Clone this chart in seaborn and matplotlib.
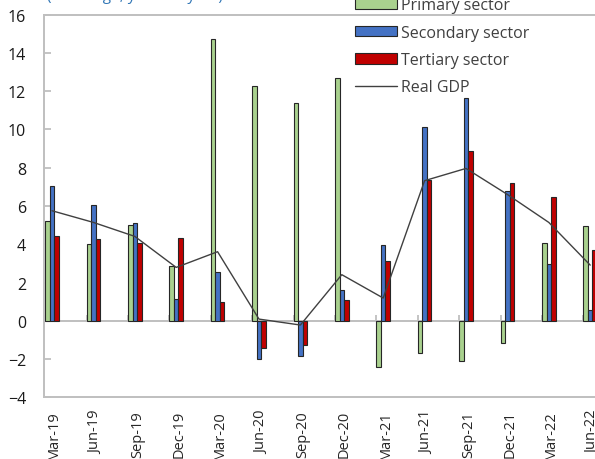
import numpy as np
import pandas as pd
import matplotlib
matplotlib.use("Agg")
import matplotlib.pyplot as plt
import seaborn as sns

# Quarterly growth by sector (%, y-o-y) and real GDP
quarters = ["Mar-19", "Jun-19", "Sep-19", "Dec-19", "Mar-20", "Jun-20", "Sep-20",
            "Dec-20", "Mar-21", "Jun-21", "Sep-21", "Dec-21", "Mar-22", "Jun-22"]
primary = [5.20, 4.01, 5.02, 2.88, 14.71, 12.28, 11.36, 12.68, -2.43, -1.70, -2.12, -1.16, 4.06, 4.97]
secondary = [7.05, 6.05, 5.09, 1.14, 2.53, -1.99, -1.85, 1.62, 3.97, 10.14, 11.62, 6.76, 2.95, 0.56]
tertiary = [4.44, 4.27, 4.06, 4.32, 0.97, -1.42, -1.26, 1.09, 3.11, 7.35, 8.85, 7.20, 6.46, 3.70]
real_gdp = [5.75, 5.14, 4.41, 2.79, 3.61, 0.09, -0.22, 2.41, 1.19, 7.32, 7.96, 6.60, 5.14, 2.91]

sector_names = ["Primary sector", "Secondary sector", "Tertiary sector"]
sector_colors = ["#A9D18E", "#4472C4", "#C00000"]
title_text = "(% change, year-on-year)"

df = pd.DataFrame({
    "quarter": quarters * 3,
    "sector": np.repeat(sector_names, len(quarters)),
    "growth": primary + secondary + tertiary,
})

sns.set_theme(style="white")
plt.rcParams["font.family"] = ["Open Sans", "DejaVu Sans"]

W, H = 595, 460
fig = plt.figure(figsize=(W / 100, H / 100), dpi=100)
ax = fig.add_axes([44 / W, (H - 398.4) / H, 576 / W, (398.4 - 15.5) / H])

sns.barplot(data=df, x="quarter", y="growth", hue="sector", order=quarters,
            hue_order=sector_names, palette=sector_colors, width=0.33,
            edgecolor="#262626", linewidth=0.8, saturation=1, ax=ax)
pos = np.arange(len(quarters))
sns.lineplot(x=pos, y=real_gdp, color="#404040", linewidth=1.0,
             label="Real GDP", ax=ax)

ax.set_xlim(-0.193, 13.72)
ax.set_ylim(-4, 16)
ax.set_xlabel("")
ax.set_ylabel("")

grey = "#BFBFBF"
for side in ["left", "top", "bottom"]:
    ax.spines[side].set_color(grey)
    ax.spines[side].set_linewidth(1.4)
ax.spines["right"].set_visible(False)

ax.set_yticks(np.arange(-4, 17, 2))
ax.tick_params(axis="y", direction="in", length=5, width=1.3, color=grey,
               labelsize=11.5, labelcolor="#1a1a1a", pad=13, left=True)
ax.set_xticks(pos + 0.06)
ax.set_xticklabels(quarters, rotation=90, fontsize=10.5, color="#262626")
ax.tick_params(axis="x", length=0, pad=9)

# Category axis crossing at zero, with its own tick marks
zero_ax = ax.secondary_xaxis(0, transform=ax.transData)
zero_ax.spines["bottom"].set_color(grey)
zero_ax.spines["bottom"].set_linewidth(1.4)
zero_ax.set_xticks(pos - 0.165)
zero_ax.tick_params(axis="x", direction="in", length=4, width=1.3, color=grey,
                    labelbottom=False)

handles, labels = ax.get_legend_handles_labels()
ax.legend(handles, labels, loc="upper left", bbox_to_anchor=(355 / W, 1 + 2 / H),
          bbox_transform=fig.transFigure, frameon=False, fontsize=11.5,
          labelcolor="#404040", handlelength=2.6, handleheight=0.63,
          handletextpad=0.3, labelspacing=0.72, borderpad=0, borderaxespad=0)

fig.text(47 / W, 1 - 0.3 / H, title_text, color="#2F75B5", fontsize=11,
         va="baseline", ha="left")

fig.savefig("out.png", dpi=100)
